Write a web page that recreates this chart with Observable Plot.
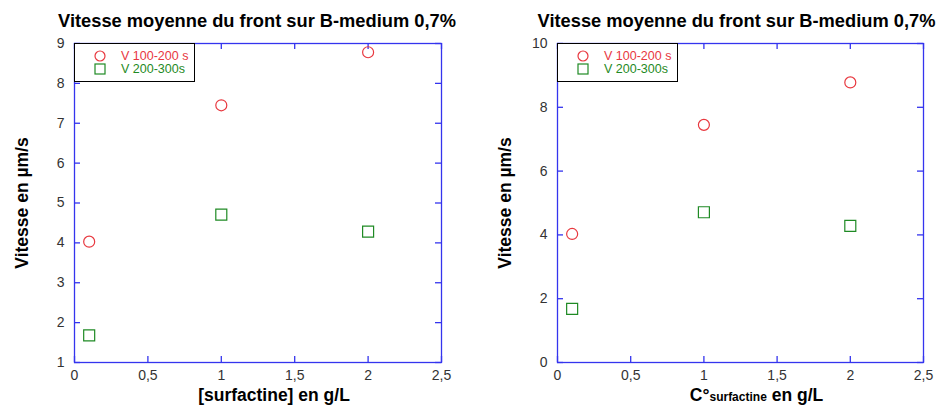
<!DOCTYPE html>
<html><head><meta charset="utf-8">
<script src="https://cdn.jsdelivr.net/npm/d3@7"></script>
<script src="https://cdn.jsdelivr.net/npm/@observablehq/plot@0.6"></script>
<style>
body{margin:0;background:#fff;font-family:"Liberation Sans",Arial,sans-serif}
#wrap{position:relative;width:939px;height:405px;display:flex}
.legend{position:absolute;border:1px solid #000;background:#fff;box-sizing:border-box;width:121px;height:39px;font-size:12.5px}
.legend .row{position:absolute;left:0;height:14px;display:flex;align-items:center}
.legend svg{position:absolute;left:19px}
.legend span{position:absolute;left:46px;white-space:nowrap;line-height:14px}
</style></head><body><div id="wrap"></div>
<script>
const concentration = [0.1, 1, 2];
const v100_200 = [4.03, 7.45, 8.78];
const v200_300 = [1.68, 4.71, 4.28];
const xTicks = [0, 0.5, 1, 1.5, 2, 2.5];
const yTicksLeft = [1, 2, 3, 4, 5, 6, 7, 8, 9];
const yTicksRight = [0, 2, 4, 6, 8, 10];
const seriesNames = ["V 100-200 s", "V 200-300s"];
const seriesColors = ["#e8383f", "#1f8a24"];
const chartTitle = "Vitesse moyenne du front sur B-medium 0,7%";
const yLabel = "Vitesse en µm/s";
const xLabelLeft = "[surfactine] en g/L";
const xLabelRight = ["C°", "surfactine", " en g/L"];

const blue = "#3434ee";
const H = 405, MT = 43, MB = 43;
const innerH = H - MT - MB;
const frac = d => String(d).replace(".", ",");

const rowsA = concentration.map((c, i) => ({c, v: v100_200[i]}));
const rowsB = concentration.map((c, i) => ({c, v: v200_300[i]}));

function panel({width, ml, mr, yDomain, yTicks, xLabel, titleDx}) {
  const innerW = width - ml - mr;
  const fig = Plot.plot({
    width, height: H, marginLeft: ml, marginRight: mr, marginTop: MT, marginBottom: MB,
    style: {fontFamily: "'Liberation Sans', Arial, sans-serif", background: "transparent", overflow: "visible"},
    x: {domain: [0, 2.5]},
    y: {domain: yDomain},
    marks: [
      Plot.frame({stroke: blue, strokeWidth: 1.3}),
      Plot.tickX(xTicks, {x: d => d, stroke: blue, strokeWidth: 1.3, insetTop: innerH - 6}),
      Plot.tickX(xTicks, {x: d => d, stroke: blue, strokeWidth: 1.3, insetBottom: innerH - 6}),
      Plot.tickY(yTicks, {y: d => d, stroke: blue, strokeWidth: 1.3, insetRight: innerW - 6}),
      Plot.tickY(yTicks, {y: d => d, stroke: blue, strokeWidth: 1.3, insetLeft: innerW - 6}),
      Plot.axisX({ticks: xTicks, tickSize: 0, tickPadding: 8, tickFormat: frac, fontSize: 14, fill: "#333", label: null}),
      Plot.axisY({ticks: yTicks, tickSize: 0, tickPadding: 10, tickFormat: frac, fontSize: 14, fill: "#333", label: null}),
      Plot.dot(rowsA, {x: "c", y: "v", r: 5.5, stroke: seriesColors[0], strokeWidth: 1.2, symbol: "circle"}),
      Plot.dot(rowsB, {x: "c", y: "v", r: 6.2, stroke: seriesColors[1], strokeWidth: 1.2, symbol: "square"}),
      Plot.text([chartTitle], {frameAnchor: "top", textAnchor: "middle", lineAnchor: "top", dy: -30, dx: titleDx, fontSize: 18.3, fontWeight: "bold", fill: "#000"}),
      Plot.text([yLabel], {frameAnchor: "left", textAnchor: "middle", dx: -52, rotate: -90, fontSize: 17.5, fontWeight: "bold", fill: "#000"}),
      Plot.text([typeof xLabel === "string" ? xLabel : xLabel.join("")], {frameAnchor: "bottom", textAnchor: "middle", lineAnchor: "top", dy: 26, dx: 16, fontSize: 17.5, fontWeight: "bold", fill: "#000", className: "xlab"})
    ]
  });
  if (typeof xLabel !== "string") {
    const t = d3.select(fig).select(".xlab text");
    t.text(null);
    t.append("tspan").text(xLabel[0]);
    t.append("tspan").attr("font-size", 12).text(xLabel[1]);
    t.append("tspan").text(xLabel[2]);
  }
  return fig;
}

const wrap = document.getElementById("wrap");
wrap.append(panel({width: 469, ml: 74, mr: 28, yDomain: [1, 9], yTicks: yTicksLeft, xLabel: xLabelLeft, titleDx: -1}));
wrap.append(panel({width: 470, ml: 88, mr: 16, yDomain: [0, 10], yTicks: yTicksRight, xLabel: xLabelRight, titleDx: -4}));

function legend(left, top) {
  const div = document.createElement("div");
  div.className = "legend";
  div.style.left = left + "px";
  div.style.top = top + "px";
  const syms = ["circle", "square"];
  seriesNames.forEach((name, i) => {
    const row = document.createElement("div");
    row.className = "row";
    row.style.top = (5 + i * 13) + "px";
    row.style.width = "100%";
    const s = syms[i] === "circle"
      ? `<circle cx="6" cy="7" r="5" fill="none" stroke="${seriesColors[i]}" stroke-width="1.2"/>`
      : `<rect x="1" y="2" width="10" height="10" fill="none" stroke="${seriesColors[i]}" stroke-width="1.2"/>`;
    row.innerHTML = `<svg width="12" height="14">${s}</svg><span style="color:${seriesColors[i]}">${name}</span>`;
    div.append(row);
  });
  wrap.append(div);
}
legend(74, 43);
legend(557, 43);
</script></body></html>
